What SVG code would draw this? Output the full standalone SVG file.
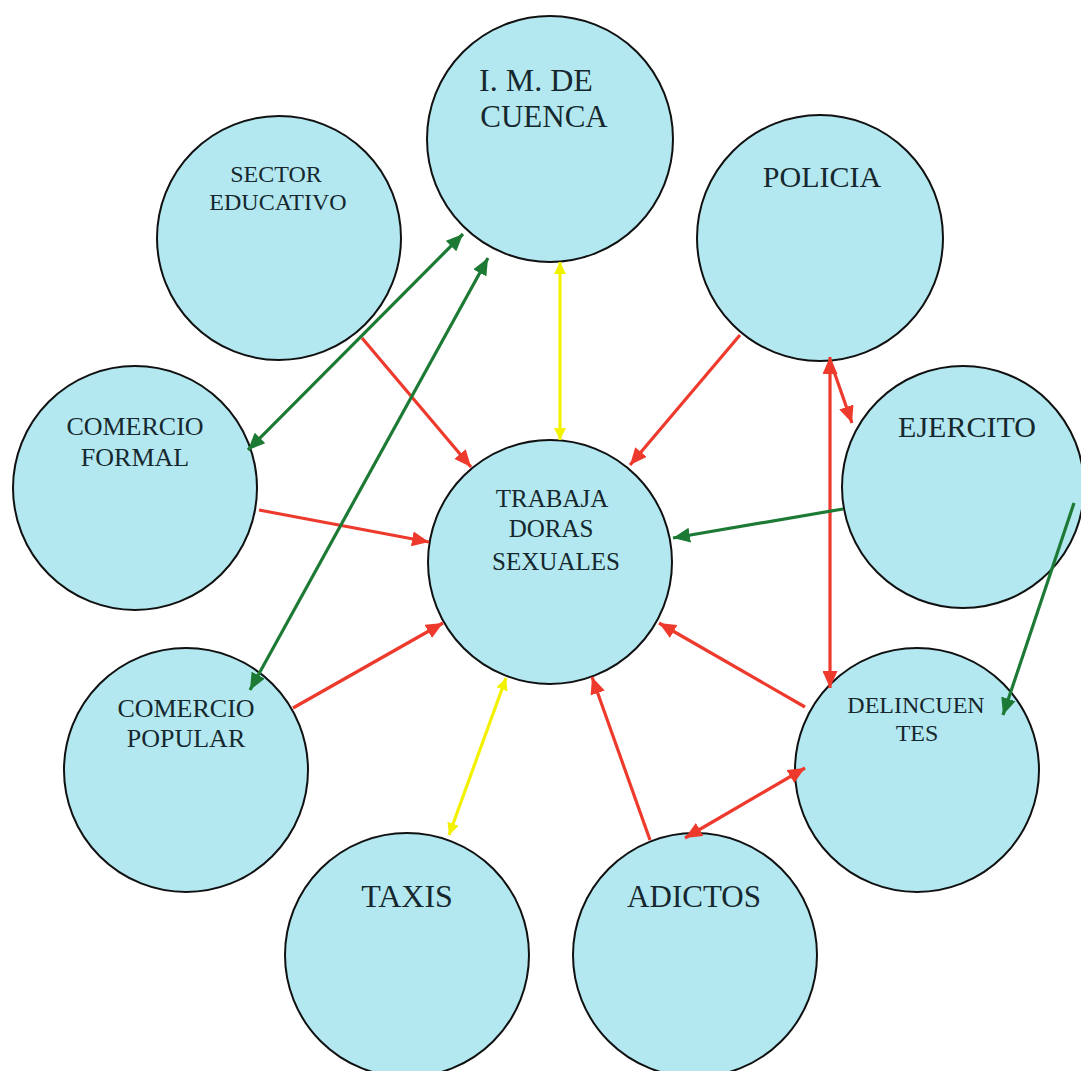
<svg xmlns="http://www.w3.org/2000/svg" width="1081" height="1071" viewBox="0 0 1081 1071">
<style>
.node circle{fill:#b3e8f1;stroke:#111;stroke-width:2}
.node text{font-family:"Liberation Serif","Times New Roman",serif;fill:#16282e;text-anchor:middle}
.red{stroke:#ee3a2c;stroke-width:3.2;fill:none}
.green{stroke:#1d7a35;stroke-width:3.2;fill:none}
.yellow{stroke:#f2f200;stroke-width:3.2;fill:none}
</style>
<defs>
<marker id="ar" markerUnits="userSpaceOnUse" markerWidth="19" markerHeight="15" refX="17" refY="7.5" orient="auto-start-reverse"><path d="M0,0 L17,7.5 L0,15 z" fill="#ee3a2c"/></marker>
<marker id="ag" markerUnits="userSpaceOnUse" markerWidth="19" markerHeight="15" refX="17" refY="7.5" orient="auto-start-reverse"><path d="M0,0 L17,7.5 L0,15 z" fill="#1d7a35"/></marker>
<marker id="ay" markerUnits="userSpaceOnUse" markerWidth="14" markerHeight="12" refX="12" refY="6" orient="auto-start-reverse"><path d="M0,0 L12,6 L0,12 z" fill="#f2f200"/></marker>
</defs>
<rect width="1081" height="1071" fill="#ffffff"/>
<g id="n-im" class="node"><circle cx="550" cy="139" r="123"/><text x="536" y="91" font-size="32">I. M. DE</text><text x="544" y="127" font-size="31">CUENCA</text></g>
<g id="n-sector" class="node"><circle cx="279" cy="238" r="122"/><text x="276" y="182" font-size="24">SECTOR</text><text x="278" y="210" font-size="24">EDUCATIVO</text></g>
<g id="n-policia" class="node"><circle cx="820" cy="238" r="123"/><text x="822" y="187" font-size="30">POLICIA</text></g>
<g id="n-comercio-formal" class="node"><circle cx="135" cy="488" r="122"/><text x="135" y="435" font-size="26">COMERCIO</text><text x="135" y="466" font-size="26">FORMAL</text></g>
<g id="n-trabajadoras" class="node"><circle cx="550" cy="562" r="122"/><text x="552" y="507" font-size="25">TRABAJA</text><text x="551" y="537" font-size="25">DORAS</text><text x="556" y="570" font-size="25">SEXUALES</text></g>
<g id="n-ejercito" class="node"><circle cx="963" cy="487" r="121"/><text x="967" y="437" font-size="30">EJERCITO</text></g>
<g id="n-comercio-popular" class="node"><circle cx="186" cy="770" r="122"/><text x="186" y="717" font-size="26">COMERCIO</text><text x="186" y="747" font-size="26">POPULAR</text></g>
<g id="n-delincuentes" class="node"><circle cx="917" cy="770" r="122"/><text x="916" y="713" font-size="24">DELINCUEN</text><text x="917" y="741" font-size="24">TES</text></g>
<g id="n-taxis" class="node"><circle cx="407" cy="955" r="122"/><text x="407" y="907" font-size="32">TAXIS</text></g>
<g id="n-adictos" class="node"><circle cx="695" cy="955" r="122"/><text x="694" y="907" font-size="31">ADICTOS</text></g>
<g id="connectors">
<line class="red" x1="362" y1="338" x2="471" y2="467" marker-end="url(#ar)"/>
<line class="red" x1="740" y1="335" x2="630" y2="465" marker-end="url(#ar)"/>
<line class="red" x1="259" y1="510" x2="429" y2="542" marker-end="url(#ar)"/>
<line class="red" x1="293" y1="708" x2="443" y2="623" marker-end="url(#ar)"/>
<line class="red" x1="805" y1="707" x2="659" y2="623" marker-end="url(#ar)"/>
<line class="red" x1="650" y1="840" x2="592" y2="677" marker-end="url(#ar)"/>
<line class="red" x1="830" y1="357" x2="830" y2="688" marker-start="url(#ar)" marker-end="url(#ar)"/>
<line class="red" x1="830" y1="360" x2="852" y2="423" marker-end="url(#ar)"/>
<line class="red" x1="805" y1="768" x2="685" y2="838" marker-start="url(#ar)" marker-end="url(#ar)"/>
<line class="green" x1="463" y1="234" x2="248" y2="450" marker-start="url(#ag)" marker-end="url(#ag)"/>
<line class="green" x1="488" y1="258" x2="250" y2="690" marker-start="url(#ag)" marker-end="url(#ag)"/>
<line class="green" x1="843" y1="509" x2="673" y2="538" marker-end="url(#ag)"/>
<line class="green" x1="1074" y1="503" x2="1003" y2="715" marker-end="url(#ag)"/>
<line class="yellow" x1="560" y1="440" x2="560" y2="262" marker-start="url(#ay)" marker-end="url(#ay)"/>
<line class="yellow" x1="506" y1="678" x2="449" y2="835" marker-start="url(#ay)" marker-end="url(#ay)"/>
</g>
</svg>
